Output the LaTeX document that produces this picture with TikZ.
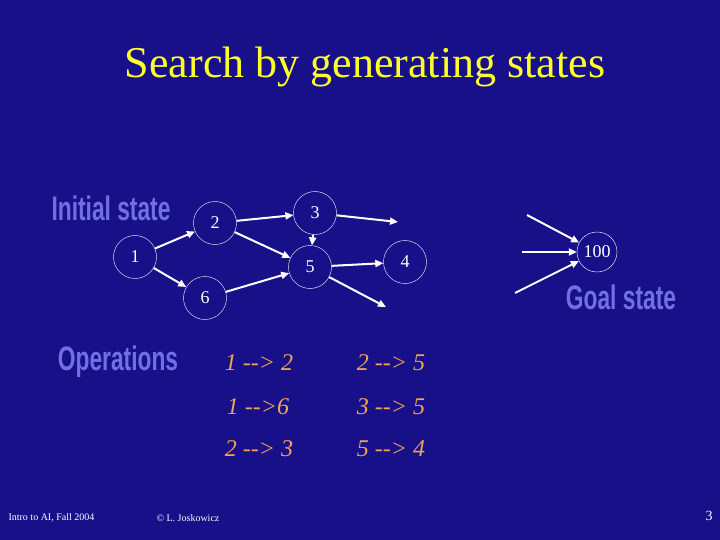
\documentclass[tikz,border=0pt]{standalone}
\usepackage{fontspec}
\setmainfont{Liberation Serif}
\newfontfamily\embfont{Liberation Sans}
\usetikzlibrary{arrows.meta}
\definecolor{slidebg}{RGB}{24,16,136}
\definecolor{titleyellow}{RGB}{255,255,40}
\definecolor{opcolor}{RGB}{240,164,84}
\definecolor{embblue}{RGB}{112,112,228}
\tikzset{
	state/.style={circle, draw=white, thin, minimum size=43pt, inner sep=0pt, text=white, font=\fontsize{18}{18}\selectfont},
	move/.style={draw=white, line width=2pt, -{Triangle[length=8pt,width=7pt]}},
	emb/.style={text=embblue, font=\embfont\bfseries\fontsize{34}{34}\selectfont},
	op/.style={text=opcolor, font=\itshape\fontsize{24}{24}\selectfont},
	foot/.style={text=white, font=\fontsize{10}{10}\selectfont},
}
\begin{document}
\begin{tikzpicture}[x=1pt, y=-1pt]
		\fill[slidebg] (0, 0) rectangle (720, 540);
		\useasboundingbox (0, 0) rectangle (720, 540);
		\node[text=titleyellow, font=\fontsize{44}{44}\selectfont, anchor=base] (title) at (365, 78) {Search by generating states};
		% labels
		\node[emb] (initlbl) at (111, 208) {\scalebox{0.67}[1]{Initial state}};
		\node[emb] (goallbl) at (621, 297) {\scalebox{0.67}[1]{Goal state}};
		\node[emb] (oplbl) at (118, 362) {\scalebox{0.67}[1]{Operations}};
		% states
		\node[state] (s1) at (135, 257) {1};
		\node[state] (s2) at (215, 223) {2};
		\node[state] (s3) at (315, 213) {3};
		\node[state] (s5) at (310, 267) {5};
		\node[state] (s4) at (405, 262) {4};
		\node[state] (s6) at (205, 298) {6};
		\node[state, minimum size=40pt] (s100) at (597, 252) {100};
		\coordinate (out3) at (398, 222);
		\coordinate (out5) at (386, 307);
		\coordinate (ina) at (527, 215);
		\coordinate (inb) at (522, 252);
		\coordinate (inc) at (515, 293);
		\draw[move] (s1) -- (s2);
		\draw[move] (s1) -- (s6);
		\draw[move] (s2) -- (s3);
		\draw[move] (s2) -- (s5);
		\draw[move] (s3) -- (s5);
		\draw[move] (s6) -- (s5);
		\draw[move] (s5) -- (s4);
		\draw[move] (s3) -- (out3);
		\draw[move] (s5) -- (out5);
		\foreach \c in {ina, inb, inc}{
			\draw[move] (\c) -- (s100);
		}
		% operations
		\node[op] (op1) at (259, 363) {1 -{}-> 2};
		\node[op] (op2) at (391, 363) {2 -{}-> 5};
		\node[op] (op3) at (258, 407) {1 -{}->6};
		\node[op] (op4) at (391, 407) {3 -{}-> 5};
		\node[op] (op5) at (259, 449) {2 -{}-> 3};
		\node[op] (op6) at (391, 449) {5 -{}-> 4};
		% footer
		\node[foot, anchor=west] (foot1) at (5, 518) {Intro to AI, Fall 2004};
		\node[foot, anchor=west] (foot2) at (153, 518) {\textcopyright{} L. Joskowicz};
		\node[text=white, font=\fontsize{14}{14}\selectfont] (pageno) at (709, 516) {3};
	\end{tikzpicture}
\end{document}
